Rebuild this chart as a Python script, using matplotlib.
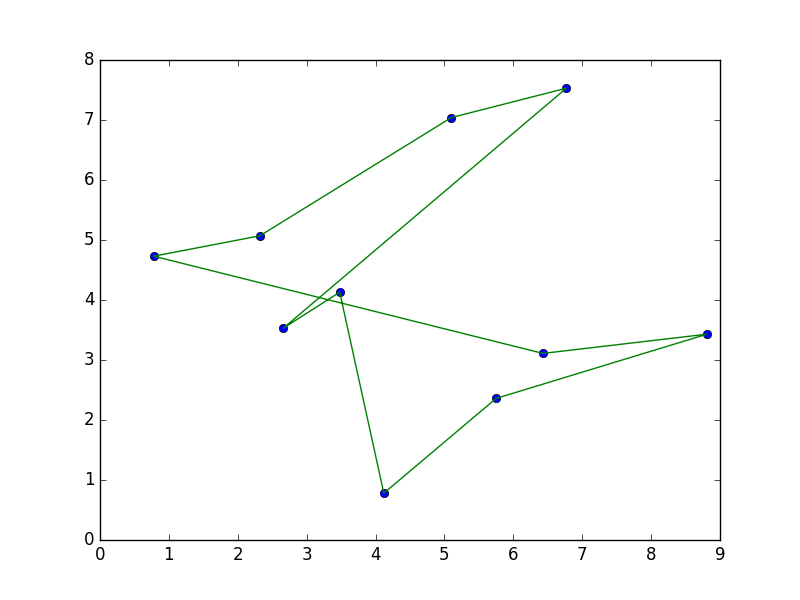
import numpy as np
import matplotlib
matplotlib.use("Agg")
import matplotlib.pyplot as plt

plt.style.use('classic')

# city coordinates
xs = [0.78, 2.32, 5.10, 6.77, 2.66, 3.48, 4.12, 5.75, 8.81, 6.43]
ys = [4.73, 5.07, 7.04, 7.53, 3.53, 4.13, 0.78, 2.36, 3.43, 3.11]

# visiting order (closed tour)
order = [0, 1, 2, 3, 4, 5, 6, 7, 8, 9, 0]

fig = plt.figure(figsize=(8, 6), dpi=100)
ax = fig.add_subplot(111)

ax.plot(xs, ys, 'bo')
ax.plot([xs[i] for i in order], [ys[i] for i in order], 'g-')

ax.set_xlim(0, 9)
ax.set_ylim(0, 8)

fig.savefig("out.png", dpi=100)
